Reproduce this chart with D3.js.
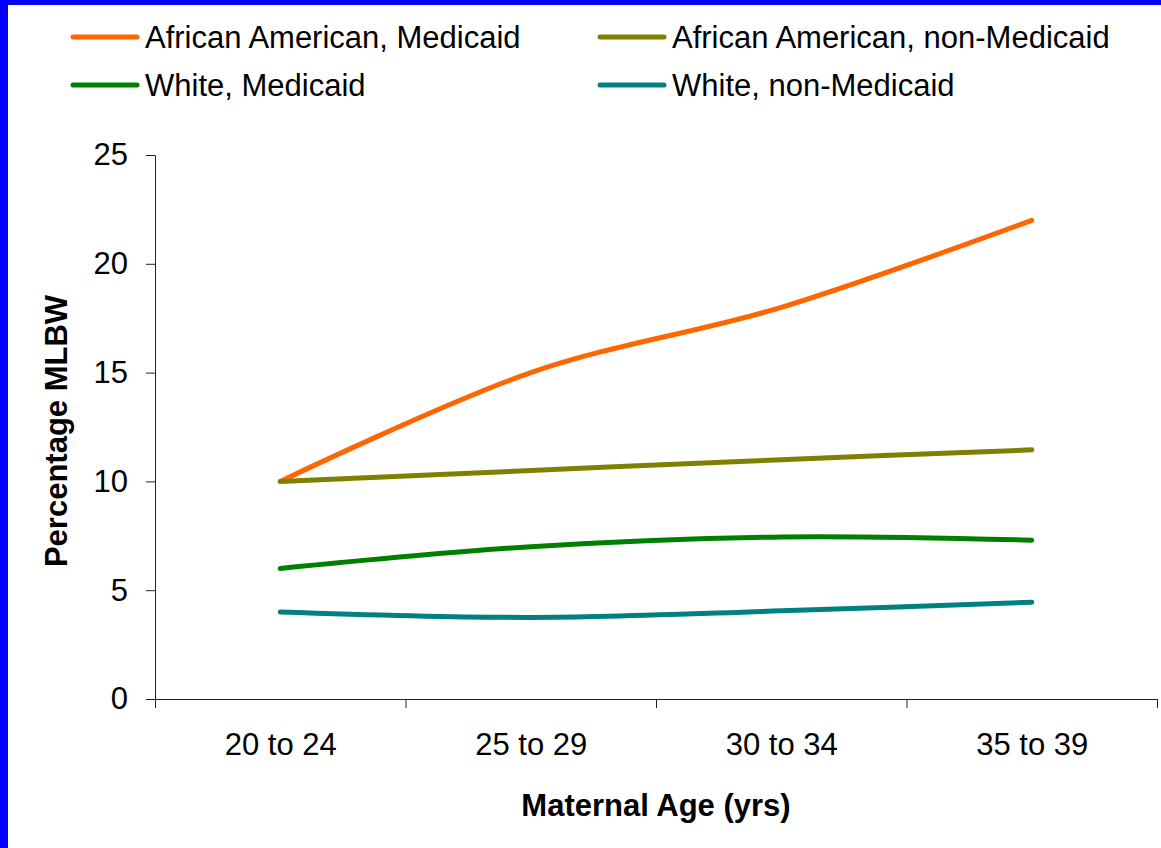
<!DOCTYPE html>
<html>
<head>
<meta charset="utf-8">
<script src="https://cdn.jsdelivr.net/npm/d3@7/dist/d3.min.js"></script>
<style>
  html, body { margin: 0; padding: 0; background: #fff; }
  svg { display: block; }
  text { font-family: "Liberation Sans", Arial, sans-serif; fill: #000; }
</style>
</head>
<body>
<svg id="chart" width="1161" height="848"></svg>
<script>
// Maternal age groups
const categories = ["20 to 24", "25 to 29", "30 to 34", "35 to 39"];

// Percentage MLBW by group
const aaMedicaid    = [10, 15, 18, 22];
const aaNonMedicaid = [10, 10.5, 11, 11.45];
const whMedicaid    = [6, 7, 7.45, 7.3];
const whNonMedicaid = [4, 3.75, 4.05, 4.45];

const seriesNames = [
  "African American, Medicaid",
  "African American, non-Medicaid",
  "White, Medicaid",
  "White, non-Medicaid"
];
const seriesColors = ["#FF6600", "#808000", "#008000", "#008080"];
const seriesValues = [aaMedicaid, aaNonMedicaid, whMedicaid, whNonMedicaid];

const yTicks = [0, 5, 10, 15, 20, 25];

const svg = d3.select("#chart");

// slide frame
svg.append("rect").attr("x", 0).attr("y", 0).attr("width", 1161).attr("height", 848).attr("fill", "#fff");
svg.append("rect").attr("x", 0).attr("y", 0).attr("width", 8).attr("height", 848).attr("fill", "#0000FF");
svg.append("rect").attr("x", 0).attr("y", 0).attr("width", 1161).attr("height", 5).attr("fill", "#0000FF");

const plot = { left: 155, right: 1157, top: 155, bottom: 699 };

const x = d3.scalePoint().domain(categories).range([plot.left, plot.right]).padding(0.5);
const xEdges = d3.scaleLinear().domain([0, categories.length]).range([plot.left, plot.right]);
const y = d3.scaleLinear().domain([0, 25]).range([plot.bottom, plot.top]);

// y axis
const yAxis = svg.append("g")
  .attr("transform", `translate(${plot.left},0)`)
  .call(d3.axisLeft(y).tickValues(yTicks).tickSize(9).tickSizeOuter(0).tickPadding(18));
yAxis.select(".domain").attr("stroke", "#222");
yAxis.selectAll(".tick line").attr("stroke", "#222");
yAxis.selectAll("text").attr("font-size", 31).style("font-family", '"Liberation Sans", Arial, sans-serif').attr("fill", "#000");

// x axis: boundary ticks between categories
const xAxisLine = svg.append("g")
  .attr("transform", `translate(0,${plot.bottom})`)
  .call(d3.axisBottom(xEdges).tickValues(d3.range(categories.length + 1)).tickSize(9).tickSizeOuter(0).tickFormat(""));
xAxisLine.select(".domain").attr("stroke", "#222");
xAxisLine.selectAll(".tick line").attr("stroke", "#222");

// x category labels
const xLabels = svg.append("g")
  .attr("transform", `translate(0,${plot.bottom})`)
  .call(d3.axisBottom(x).tickSize(0));
xLabels.select(".domain").remove();
xLabels.selectAll("text")
  .attr("y", 56).attr("dy", 0)
  .attr("font-size", 31)
  .style("font-family", '"Liberation Sans", Arial, sans-serif')
  .attr("fill", "#000");

// axis titles
svg.append("text")
  .attr("transform", `translate(67,${(plot.top + plot.bottom) / 2 + 4}) rotate(-90)`)
  .attr("text-anchor", "middle")
  .attr("font-size", 31)
  .attr("font-weight", "bold")
  .text("Percentage MLBW");

svg.append("text")
  .attr("x", (plot.left + plot.right) / 2)
  .attr("y", 816)
  .attr("text-anchor", "middle")
  .attr("font-size", 31)
  .attr("font-weight", "bold")
  .text("Maternal Age (yrs)");

// series lines
const line = d3.line()
  .x((d, i) => x(categories[i]))
  .y(d => y(d))
  .curve(d3.curveCardinal.tension(0));

svg.append("g").selectAll("path")
  .data(seriesValues)
  .join("path")
  .attr("d", d => line(d))
  .attr("fill", "none")
  .attr("stroke", (d, i) => seriesColors[i])
  .attr("stroke-width", 5)
  .attr("stroke-linecap", "round")
  .attr("stroke-linejoin", "round");

// legend (2 x 2)
const legendPos = [
  { x: 73, y: 37 }, { x: 600, y: 37 },
  { x: 73, y: 85 }, { x: 600, y: 85 }
];
const legend = svg.append("g").selectAll("g")
  .data(seriesNames)
  .join("g")
  .attr("transform", (d, i) => `translate(${legendPos[i].x},${legendPos[i].y})`);
legend.append("line")
  .attr("x1", 0).attr("x2", 64).attr("y1", 0).attr("y2", 0)
  .attr("stroke", (d, i) => seriesColors[i])
  .attr("stroke-width", 5)
  .attr("stroke-linecap", "round");
legend.append("text")
  .attr("x", 72).attr("y", 11)
  .attr("font-size", 31)
  .text(d => d);
</script>
</body>
</html>
